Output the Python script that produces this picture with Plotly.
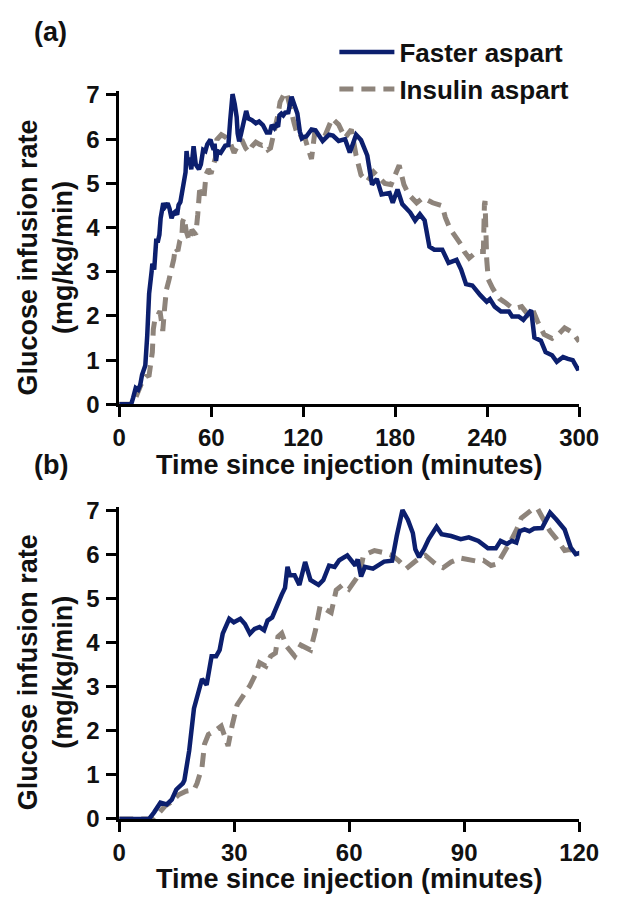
import plotly.graph_objects as go

# ---- data ----
t_faster = [0, 7.8, 9.1, 10.75, 12.4, 13.7, 14.9, 16.6, 17.0, 18.25, 19.5, 21.2, 21.6, 22.8,
            24.1, 25.3, 26.2, 27.0, 28.7, 29.9, 31.6, 32.8, 34.1, 35.3, 36.6, 37.8, 38.7, 39.9,
            41.2, 42.4, 43.25, 43.9, 44.5, 45.75, 47.0, 48.5, 49.9, 52.0, 53.25, 54.75, 56.2,
            57.4, 59.5, 60.4, 61.6, 62.2, 63.1, 64.1, 66.2, 69.1, 71.2, 72.4, 73.9, 75.3, 76.6,
            77.25, 78.25, 79.5, 80.75, 82.8, 84.1, 86.6, 89.1, 91.2, 93.7, 96.2, 98.25, 99.5,
            101.2, 102.4, 103.6, 104.5, 105.75, 107.0, 108.25, 110.3, 112.4, 114.1, 116.2,
            117.8, 119.1, 120.3, 122, 125.4, 128, 132.7, 136.9, 139.4, 143.1, 147.3, 150.4,
            154.5, 157.7, 161.8, 164.9, 168, 171.1, 176.3, 178.4, 181.5, 184.6, 189.8, 193,
            196.1, 199.2, 202.3, 205.5, 210.7, 214.8, 220, 223, 226.2, 230.3, 235.5, 239.7,
            241.8, 244.9, 249, 254.2, 256.3, 260.5, 263.6, 268.7, 270.8, 275, 278.1, 282.3,
            285.4, 289.5, 292.7, 295.8, 298.9, 300]
gir_faster = [0, 0, 0.15, 0.37, 0.33, 0.44, 0.67, 0.81, 0.88, 1.55, 2.51, 3.03, 3.18, 3.05,
              3.70, 3.70, 3.84, 4.21, 4.55, 4.47, 4.55, 4.43, 4.21, 4.32, 4.36, 4.29, 4.51, 4.58,
              4.88, 5.10, 5.25, 5.73, 5.54, 5.54, 5.32, 5.84, 5.43, 5.32, 5.43, 5.76, 5.73,
              5.88, 5.99, 5.88, 5.76, 5.90, 5.51, 5.73, 5.69, 5.85, 5.87, 6.43, 7.02, 6.80, 6.50,
              6.13, 5.95, 6.13, 6.36, 6.64, 6.47, 6.43, 6.36, 6.40, 6.32, 6.15, 6.15, 6.32,
              6.25, 6.32, 6.28, 6.54, 6.58, 6.54, 6.60, 6.61, 6.96, 6.80, 6.58,
              6.17, 6.02, 6.05, 6.06, 6.22, 6.20, 5.96, 6.10, 6.08, 5.96, 6.00, 5.70,
              6.10, 5.98, 5.63, 4.97, 5.10, 4.75, 4.78, 4.56, 4.86, 4.53, 4.34, 4.16,
              4.30, 4.16, 3.57, 3.50, 3.50, 3.20, 3.27, 3.05, 2.72, 2.69, 2.47, 2.32,
              2.38, 2.21, 2.10, 2.10, 1.99, 1.99, 1.91, 2.13, 1.51, 1.44, 1.18, 1.11,
              0.96, 1.07, 1.03, 1.00, 0.81, 0.82]

t_aspart = [0, 9.0, 9.5, 12, 13.3, 15.5, 17.4, 19.5, 20.3, 21.6, 22.25, 23.25, 24.9, 26.6,
            27.8, 28.4, 29.5, 30.75, 32.4, 34.1, 35.6, 36.6, 38.25, 39.5, 40.75, 41.4, 42.4,
            43.7, 45.75, 47.4, 49.9, 51.2, 52.4, 55.3, 56.6, 58.25, 59.9, 61.2, 62.8, 63.7,
            66.6, 68.7, 71.2, 72.8, 74.9, 77.0, 78.25, 79.9, 82.4, 84.5, 86.6, 89.1, 91.6,
            93.25, 95.0, 97.0, 98.7, 100.3, 102.4, 103.7, 104.9, 107.4, 109.1, 110.3, 112.4,
            114.1, 116.2, 117.8, 119.0, 121.3, 125.4, 127.5, 134, 138.9, 143.1, 147.3, 151.4,
            154.5, 157.7, 161.8, 165.9, 170, 173.2, 177.3, 180.5, 182.6, 185.7, 188.8, 194,
            198.1, 202.3, 204.4, 210.7, 212.7, 215.8, 219, 223, 225, 228.2, 233.4, 237.5,
            238.2, 238.6, 239.7, 240.7, 243.8, 248, 251.1, 255.2, 258.3, 262.5, 266.6, 269.7,
            272.8, 277.1, 282.3, 286.4, 290.5, 295.8, 298.9, 300]
gir_aspart = [0, 0, 0.05, 0.30, 0.37, 0.55, 0.63, 0.66, 0.81, 1.18, 1.70, 1.92, 2.00, 2.11,
              1.81, 1.66, 2.14, 2.59, 2.81, 3.03, 3.29, 3.55, 3.47, 3.70, 3.77, 4.14, 4.22,
              3.92, 3.70, 3.95, 3.84, 4.29, 4.84, 4.69, 5.20, 5.32, 5.22, 5.39, 5.58, 5.99,
              6.10, 6.06, 5.99, 5.88, 5.69, 5.84, 5.92, 5.99, 5.80, 5.71, 5.84, 5.93, 5.88,
              5.86, 5.88, 5.76, 5.80, 6.02, 6.36, 6.58, 6.84, 7.01, 7.06, 6.87, 6.54,
              6.36, 6.10, 6.13, 6.03, 6.00, 5.55, 6.14, 6.06, 6.47, 6.33, 6.03, 6.22,
              5.63, 5.19, 5.04, 5.26, 5.12, 5.00, 4.97, 5.26, 5.41, 4.97, 4.75, 4.56,
              4.67, 4.60, 4.56, 4.49, 4.23, 3.97, 3.83, 3.61, 3.46, 3.31, 3.46, 3.46,
              4.53, 4.60, 3.27, 2.83, 2.61, 2.39, 2.32, 2.21, 2.17, 2.21, 2.03, 2.14,
              1.88, 1.58, 1.49, 1.58, 1.73, 1.62, 1.47, 1.42]

series_names = ["Faster aspart", "Insulin aspart"]
xticks_a = [0, 60, 120, 180, 240, 300]
xticks_b = [0, 30, 60, 90, 120]
yticks = [0, 1, 2, 3, 4, 5, 6, 7]

# ---- styling ----
# the page body keeps the browser's default 8px margin, so the figure starts
# 8px in from the window's top-left corner; size it to end at the window edge.
OFF = 8
W, H = 625 - OFF, 910 - OFF
BLUE = "#0c1f6e"
GREY = "#8e847b"
TXT = "#111111"
FAM = "Liberation Sans, Arial, sans-serif"

def px_x(x):  # window pixel -> paper fraction
    return (x - OFF) / W

def px_y(y):
    return 1 - (y - OFF) / H

fig = go.Figure()

for xa, ya, show in [("x", "y", True), ("x2", "y2", False)]:
    fig.add_trace(go.Scatter(x=t_aspart, y=gir_aspart, mode="lines", name=series_names[1],
                             line=dict(color=GREY, width=5, dash="14px,8px"),
                             xaxis=xa, yaxis=ya, showlegend=show, legendrank=2))
    fig.add_trace(go.Scatter(x=t_faster, y=gir_faster, mode="lines", name=series_names[0],
                             line=dict(color=BLUE, width=4.5),
                             xaxis=xa, yaxis=ya, showlegend=show, legendrank=1))

tickfont = dict(family=FAM, size=24, color=TXT, weight="bold")
common = dict(showline=True, linecolor="black", linewidth=2.5, ticks="outside",
              ticklen=10, tickwidth=2.5, tickcolor="black", showgrid=False,
              zeroline=False, tickfont=tickfont, ticklabeloverflow="allow")

xdom = [px_x(117), px_x(598)]
fig.update_layout(
    width=W, height=H,
    margin=dict(l=0, r=0, t=0, b=0),
    paper_bgcolor="white", plot_bgcolor="white",
    xaxis=dict(domain=xdom, range=[0, 300], tickvals=xticks_a, anchor="y", **common),
    yaxis=dict(domain=[px_y(405), px_y(83.4)], range=[0, 7.1], tickvals=yticks,
               anchor="x", ticklabelstandoff=2, **common),
    xaxis2=dict(domain=xdom, range=[0, 120], tickvals=xticks_b, anchor="y2", **common),
    yaxis2=dict(domain=[px_y(830), px_y(509.8)], range=[0, 7.1], tickvals=yticks,
                anchor="x2", ticklabelstandoff=2, **common),
    legend=dict(x=px_x(342), y=px_y(20), xanchor="left", yanchor="top",
                font=dict(family=FAM, size=26, color=TXT, weight="bold"),
                bgcolor="rgba(0,0,0,0)", tracegroupgap=0, itemwidth=55),
    showlegend=True,
)

afont = dict(family=FAM, size=27, color=TXT, weight="bold")
ann = [
    dict(text="(a)", x=px_x(26), y=px_y(23), xanchor="left", yanchor="middle"),
    dict(text="(b)", x=px_x(26), y=px_y(467), xanchor="left", yanchor="middle"),
    dict(text="Time since injection (minutes)", x=px_x(357.5), y=px_y(467),
         xanchor="center", yanchor="middle"),
    dict(text="Time since injection (minutes)", x=px_x(357.5), y=px_y(892),
         xanchor="center", yanchor="middle"),
    dict(text="Glucose infusion rate<br>(mg/kg/min)", x=px_x(40), y=px_y(255),
         xanchor="center", yanchor="middle", textangle=-90),
    dict(text="Glucose infusion rate<br>(mg/kg/min)", x=px_x(40), y=px_y(680),
         xanchor="center", yanchor="middle", textangle=-90),
]
for a in ann:
    fig.add_annotation(xref="paper", yref="paper", showarrow=False, font=afont, **a)

fig.write_html("out.html")
